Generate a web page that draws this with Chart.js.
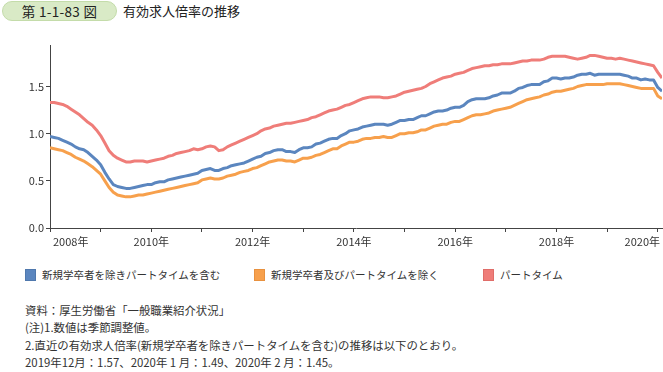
<!DOCTYPE html>
<html lang="ja">
<head>
<meta charset="utf-8">
<script src="https://cdn.jsdelivr.net/npm/chart.js@4.4.1/dist/chart.umd.min.js"></script>
<style>
  body { margin: 0; width: 663px; height: 372px; background: #fff; position: relative; overflow: hidden;
         font-family: "Noto Sans CJK JP", "Noto Sans", sans-serif; color: #333; }
  .badge { position: absolute; left: 2px; top: 1px; width: 115px; height: 20px; border-radius: 10px;
           background: #d9eac6; border: 1px solid #c4dcaa; box-sizing: border-box;
           font-size: 13.5px; line-height: 18px; text-align: center; color: #222; letter-spacing: 0.3px; }
  .title { position: absolute; left: 123px; top: 1px; font-size: 13px; line-height: 20px; color: #222; }
  #wrap { position: absolute; left: 0; top: 30px; width: 663px; height: 230px; }
  .legend { position: absolute; top: 268px; font-size: 10.5px; line-height: 14px; }
  .legend span.box { position: absolute; left: 0; top: 1px; width: 11px; height: 12px; box-sizing: border-box; }
  .legend span.txt { position: absolute; left: 17px; top: 0; white-space: nowrap; }
  .notes { position: absolute; left: 25px; top: 302px; font-size: 11.4px; line-height: 17.3px; color: #333; }
</style>
</head>
<body>
<div class="badge">第 1-1-83 図</div>
<div class="title">有効求人倍率の推移</div>
<div id="wrap"><canvas id="chart"></canvas></div>
<div id="legend"></div>
<div class="notes">
  資料：厚生労働省「一般職業紹介状況」<br>
  (注)1.数値は季節調整値。<br>
  2.直近の有効求人倍率(新規学卒者を除きパートタイムを含む)の推移は以下のとおり。<br>
  2019年12月：1.57、2020年 1 月：1.49、2020年 2 月：1.45。
</div>
<script>
// monthly, Jan 2008 - Feb 2020
const startYear = 2008;
const tickYears = [2008, 2009, 2010, 2011, 2012, 2013, 2014, 2015, 2016, 2017, 2018, 2019, 2020];
const yTicks = [0, 0.5, 1.0, 1.5];
const seriesNames = ['新規学卒者を除きパートタイムを含む', '新規学卒者及びパートタイムを除く', 'パートタイム'];

const inclPart = [
  0.97, 0.96, 0.95, 0.93, 0.91, 0.89, 0.86, 0.84, 0.83, 0.80, 0.76, 0.72,
  0.67, 0.59, 0.52, 0.46, 0.44, 0.43, 0.42, 0.42, 0.43, 0.44, 0.45, 0.46,
  0.46, 0.48, 0.49, 0.49, 0.51, 0.52, 0.53, 0.54, 0.55, 0.56, 0.57, 0.58,
  0.61, 0.62, 0.63, 0.61, 0.61, 0.63, 0.64, 0.66, 0.67, 0.68, 0.69, 0.71,
  0.73, 0.75, 0.76, 0.79, 0.80, 0.82, 0.83, 0.83, 0.81, 0.81, 0.80, 0.83,
  0.85, 0.85, 0.86, 0.89, 0.90, 0.92, 0.94, 0.95, 0.95, 0.98, 1.00, 1.03,
  1.04, 1.05, 1.07, 1.08, 1.09, 1.10, 1.10, 1.10, 1.09, 1.10, 1.12, 1.14,
  1.14, 1.15, 1.15, 1.17, 1.19, 1.19, 1.21, 1.23, 1.24, 1.24, 1.25, 1.27,
  1.28, 1.28, 1.30, 1.34, 1.36, 1.37, 1.37, 1.37, 1.38, 1.40, 1.41, 1.43,
  1.43, 1.43, 1.45, 1.48, 1.49, 1.51, 1.52, 1.52, 1.52, 1.55, 1.56, 1.59,
  1.59, 1.58, 1.59, 1.59, 1.60, 1.62, 1.63, 1.63, 1.64, 1.62, 1.63, 1.63,
  1.63, 1.63, 1.63, 1.63, 1.62, 1.61, 1.59, 1.59, 1.57, 1.58, 1.57, 1.57,
  1.49, 1.45
];

const exclPart = [
  0.85, 0.84, 0.83, 0.82, 0.80, 0.78, 0.75, 0.73, 0.71, 0.68, 0.65, 0.61,
  0.57, 0.50, 0.43, 0.38, 0.35, 0.34, 0.33, 0.33, 0.34, 0.35, 0.35, 0.36,
  0.37, 0.38, 0.39, 0.40, 0.41, 0.42, 0.43, 0.44, 0.45, 0.46, 0.47, 0.48,
  0.51, 0.52, 0.53, 0.52, 0.52, 0.53, 0.55, 0.56, 0.57, 0.59, 0.60, 0.61,
  0.63, 0.64, 0.66, 0.68, 0.70, 0.71, 0.72, 0.72, 0.71, 0.71, 0.70, 0.72,
  0.74, 0.74, 0.75, 0.77, 0.78, 0.80, 0.82, 0.84, 0.84, 0.87, 0.89, 0.91,
  0.91, 0.92, 0.94, 0.95, 0.95, 0.96, 0.96, 0.97, 0.96, 0.96, 0.98, 1.00,
  1.00, 1.01, 1.01, 1.02, 1.04, 1.04, 1.06, 1.08, 1.09, 1.10, 1.10, 1.12,
  1.13, 1.13, 1.15, 1.17, 1.19, 1.20, 1.20, 1.21, 1.22, 1.24, 1.25, 1.26,
  1.27, 1.28, 1.30, 1.32, 1.34, 1.36, 1.37, 1.38, 1.39, 1.41, 1.42, 1.44,
  1.45, 1.45, 1.46, 1.47, 1.48, 1.50, 1.51, 1.52, 1.52, 1.52, 1.52, 1.52,
  1.53, 1.53, 1.53, 1.53, 1.52, 1.51, 1.50, 1.49, 1.48, 1.48, 1.48, 1.48,
  1.40, 1.37
];

const partTime = [
  1.33, 1.33, 1.32, 1.31, 1.29, 1.26, 1.23, 1.20, 1.16, 1.12, 1.09, 1.04,
  0.98, 0.90, 0.82, 0.77, 0.74, 0.72, 0.70, 0.70, 0.71, 0.71, 0.71, 0.70,
  0.71, 0.72, 0.73, 0.74, 0.76, 0.77, 0.79, 0.80, 0.81, 0.82, 0.84, 0.83,
  0.84, 0.86, 0.87, 0.86, 0.82, 0.83, 0.86, 0.88, 0.90, 0.92, 0.94, 0.96,
  0.98, 1.00, 1.03, 1.05, 1.06, 1.08, 1.09, 1.10, 1.11, 1.11, 1.12, 1.13,
  1.14, 1.15, 1.17, 1.18, 1.20, 1.22, 1.24, 1.25, 1.26, 1.28, 1.30, 1.31,
  1.33, 1.35, 1.37, 1.38, 1.39, 1.39, 1.39, 1.38, 1.38, 1.39, 1.40, 1.42,
  1.44, 1.45, 1.46, 1.47, 1.48, 1.50, 1.53, 1.55, 1.57, 1.59, 1.60, 1.61,
  1.63, 1.64, 1.65, 1.67, 1.69, 1.70, 1.71, 1.72, 1.72, 1.73, 1.73, 1.74,
  1.74, 1.74, 1.75, 1.76, 1.77, 1.77, 1.78, 1.78, 1.78, 1.79, 1.81, 1.82,
  1.82, 1.82, 1.82, 1.81, 1.80, 1.79, 1.80, 1.81, 1.83, 1.83, 1.82, 1.81,
  1.80, 1.80, 1.79, 1.80, 1.79, 1.78, 1.77, 1.76, 1.75, 1.74, 1.73, 1.72,
  1.65, 1.59
];

const colors = ['#5b86bf', '#f7a04c', '#ef7d79'];
const boxBorders = ['#4f78ad', '#e8913f', '#e06d69'];
const FONT = '"Noto Sans CJK JP", "Noto Sans", sans-serif';

function toPoints(values) {
  return values.map((v, i) => ({ x: i, y: v }));
}

// x labels are kept inside the plot at both ends, like the original
const xLabelPlugin = {
  id: 'xLabels',
  afterDraw(chart) {
    const ctx = chart.ctx;
    const xs = chart.scales.x;
    const area = chart.chartArea;
    ctx.save();
    ctx.font = '11px ' + FONT;
    ctx.fillStyle = '#333';
    ctx.textBaseline = 'middle';
    ctx.textAlign = 'left';
    tickYears.forEach(y => {
      if (y % 2 !== 0) return;
      const label = y + '年';
      const w = ctx.measureText(label).width;
      let left = xs.getPixelForValue((y - startYear) * 12) - w / 2;
      left = Math.max(left, area.left + 3);
      left = Math.min(left, area.right - 2 - w);
      ctx.fillText(label, left, area.bottom + 14);
    });
    ctx.restore();
  }
};

const chart = new Chart(document.getElementById('chart'), {
  type: 'line',
  data: {
    datasets: [inclPart, exclPart, partTime].map((vals, i) => ({
      label: seriesNames[i],
      data: toPoints(vals),
      borderColor: colors[i],
      backgroundColor: colors[i],
      borderWidth: 3,
      pointRadius: 0,
      tension: 0,
      borderJoinStyle: 'round',
      fill: false
    }))
  },
  options: {
    responsive: true,
    maintainAspectRatio: false,
    animation: false,
    layout: { padding: { top: 15, right: 1, left: 0, bottom: 0 } },
    plugins: { legend: { display: false }, tooltip: { enabled: false } },
    scales: {
      x: {
        type: 'linear',
        min: 0,
        max: inclPart.length - 1,
        afterBuildTicks: s => { s.ticks = tickYears.map(y => ({ value: (y - startYear) * 12 })); },
        afterFit: s => { s.height = 32; s.paddingLeft = 0; s.paddingRight = 0; },
        ticks: { display: false },
        grid: { drawOnChartArea: false, drawTicks: true, tickLength: 4, color: '#444' },
        border: { display: true, color: '#444', width: 1 }
      },
      y: {
        min: 0,
        max: 1.94,
        afterBuildTicks: s => { s.ticks = yTicks.map(v => ({ value: v })); },
        afterFit: s => { s.width = 50; },
        ticks: {
          padding: 2,
          color: '#333',
          font: { family: FONT, size: 11 },
          callback: v => Number(v).toFixed(1)
        },
        grid: { drawOnChartArea: false, drawTicks: true, tickLength: 4, color: '#444' },
        border: { display: true, color: '#444', width: 1 }
      }
    }
  },
  plugins: [xLabelPlugin]
});

// legend in fixed columns
const legendLefts = [25, 254, 483];
const legend = document.getElementById('legend');
chart.data.datasets.forEach((ds, i) => {
  const item = document.createElement('div');
  item.className = 'legend';
  item.style.left = legendLefts[i] + 'px';
  item.innerHTML = '<span class="box" style="background:' + ds.borderColor + ';border:1px solid ' + boxBorders[i] + '"></span>' +
    '<span class="txt">' + ds.label + '</span>';
  legend.appendChild(item);
});
</script>
</body>
</html>
